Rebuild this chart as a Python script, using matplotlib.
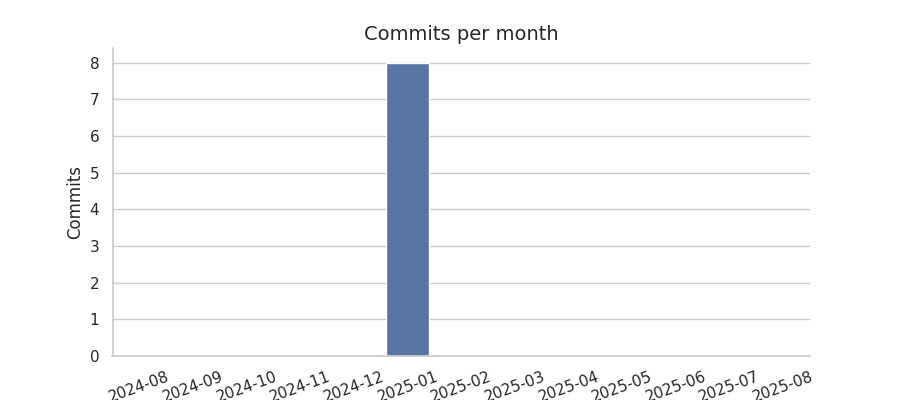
import matplotlib
matplotlib.use("Agg")
import matplotlib.pyplot as plt
import seaborn as sns

months = ["2024-08","2024-09","2024-10","2024-11","2024-12","2025-01","2025-02",
          "2025-03","2025-04","2025-05","2025-06","2025-07","2025-08"]
commits = [0,0,0,0,0,8,0,0,0,0,0,0,0]

sns.set_theme(style="whitegrid")
fig, ax = plt.subplots(figsize=(9,4), dpi=100)
sns.barplot(x=months, y=commits, color="#4c72b0", ax=ax)
ax.set_title("Commits per month", fontsize=14)
ax.set_ylabel("Commits")
ax.set_xlabel("")
plt.setp(ax.get_xticklabels(), rotation=20)
sns.despine()
fig.savefig("out.png")
